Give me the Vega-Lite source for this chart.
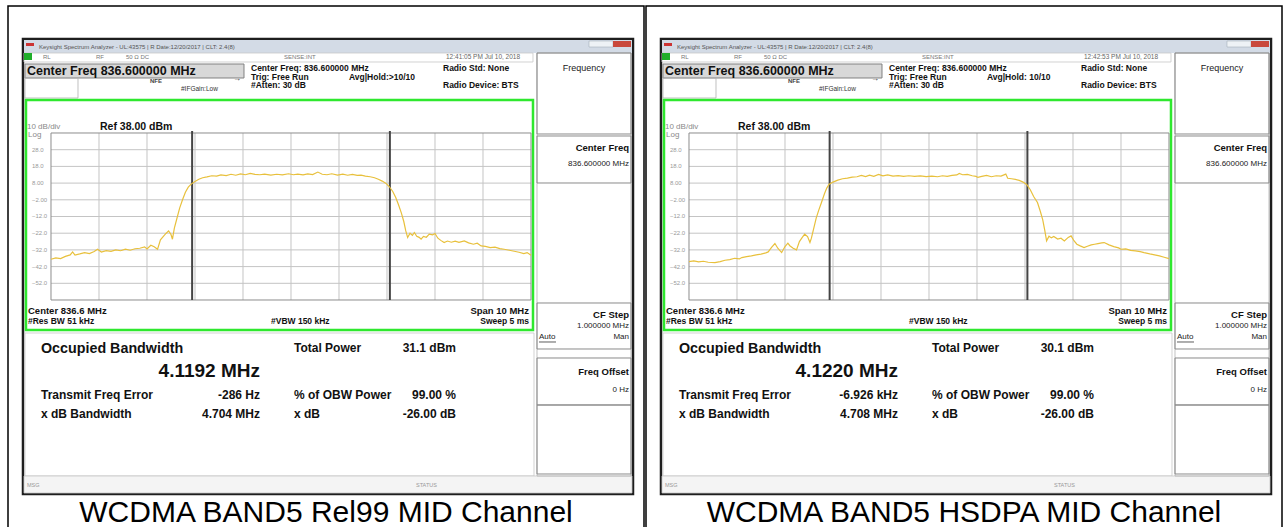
{
"$schema": "https://vega.github.io/schema/vega-lite/v6.json",
"padding": {"left": 7, "top": 5, "right": 0, "bottom": 0},
"background": "white",
"spacing": 0,
"data": {"values": [
{"panel":"Rel99","g":"m","cap":"WCDMA BAND5 Rel99 MID Channel","ts":"12:41:05 PM Jul 10, 2018","avg":"Avg|Hold:>10/10","obw":"4.1192 MHz","err":"-286 Hz","xbw":"4.704 MHz","tp":"31.1 dBm"},
{"panel":"HSDPA","g":"m","cap":"WCDMA BAND5 HSDPA MID Channel","ts":"12:42:53 PM Jul 10, 2018","avg":"Avg|Hold: 10/10","obw":"4.1220 MHz","err":"-6.926 kHz","xbw":"4.708 MHz","tp":"30.1 dBm"},
{"panel":"Rel99","g":"vg","f":832.6},{"panel":"Rel99","g":"vg","f":833.6},{"panel":"Rel99","g":"vg","f":834.6},{"panel":"Rel99","g":"vg","f":835.6},{"panel":"Rel99","g":"vg","f":836.6},{"panel":"Rel99","g":"vg","f":837.6},{"panel":"Rel99","g":"vg","f":838.6},{"panel":"Rel99","g":"vg","f":839.6},{"panel":"Rel99","g":"vg","f":840.6},
{"panel":"HSDPA","g":"vg","f":832.6},{"panel":"HSDPA","g":"vg","f":833.6},{"panel":"HSDPA","g":"vg","f":834.6},{"panel":"HSDPA","g":"vg","f":835.6},{"panel":"HSDPA","g":"vg","f":836.6},{"panel":"HSDPA","g":"vg","f":837.6},{"panel":"HSDPA","g":"vg","f":838.6},{"panel":"HSDPA","g":"vg","f":839.6},{"panel":"HSDPA","g":"vg","f":840.6},
{"panel":"Rel99","g":"hg","p":28},{"panel":"Rel99","g":"hg","p":18},{"panel":"Rel99","g":"hg","p":8},{"panel":"Rel99","g":"hg","p":-2},{"panel":"Rel99","g":"hg","p":-12},{"panel":"Rel99","g":"hg","p":-22},{"panel":"Rel99","g":"hg","p":-32},{"panel":"Rel99","g":"hg","p":-42},{"panel":"Rel99","g":"hg","p":-52},
{"panel":"HSDPA","g":"hg","p":28},{"panel":"HSDPA","g":"hg","p":18},{"panel":"HSDPA","g":"hg","p":8},{"panel":"HSDPA","g":"hg","p":-2},{"panel":"HSDPA","g":"hg","p":-12},{"panel":"HSDPA","g":"hg","p":-22},{"panel":"HSDPA","g":"hg","p":-32},{"panel":"HSDPA","g":"hg","p":-42},{"panel":"HSDPA","g":"hg","p":-52},
{"panel":"Rel99","g":"obw","f":834.54},{"panel":"Rel99","g":"obw","f":838.66},
{"panel":"HSDPA","g":"obw","f":834.53},{"panel":"HSDPA","g":"obw","f":838.65},
{"panel":"Rel99","g":"tr","f":831.6,"p":-37.6},{"panel":"Rel99","g":"tr","f":831.7,"p":-36.8},{"panel":"Rel99","g":"tr","f":831.8,"p":-37.2},{"panel":"Rel99","g":"tr","f":831.9,"p":-35.9},{"panel":"Rel99","g":"tr","f":832.0,"p":-35.0},{"panel":"Rel99","g":"tr","f":832.05,"p":-33.2},{"panel":"Rel99","g":"tr","f":832.1,"p":-35.1},{"panel":"Rel99","g":"tr","f":832.2,"p":-34.4},{"panel":"Rel99","g":"tr","f":832.3,"p":-33.6},{"panel":"Rel99","g":"tr","f":832.4,"p":-34.2},{"panel":"Rel99","g":"tr","f":832.5,"p":-33.0},{"panel":"Rel99","g":"tr","f":832.57,"p":-31.6},{"panel":"Rel99","g":"tr","f":832.65,"p":-33.3},{"panel":"Rel99","g":"tr","f":832.75,"p":-32.4},{"panel":"Rel99","g":"tr","f":832.85,"p":-32.9},{"panel":"Rel99","g":"tr","f":832.95,"p":-32.0},{"panel":"Rel99","g":"tr","f":833.05,"p":-32.5},{"panel":"Rel99","g":"tr","f":833.15,"p":-31.6},{"panel":"Rel99","g":"tr","f":833.25,"p":-32.2},{"panel":"Rel99","g":"tr","f":833.35,"p":-31.3},{"panel":"Rel99","g":"tr","f":833.45,"p":-31.0},{"panel":"Rel99","g":"tr","f":833.55,"p":-30.2},{"panel":"Rel99","g":"tr","f":833.6,"p":-31.4},{"panel":"Rel99","g":"tr","f":833.68,"p":-29.2},{"panel":"Rel99","g":"tr","f":833.75,"p":-30.1},{"panel":"Rel99","g":"tr","f":833.82,"p":-31.6},{"panel":"Rel99","g":"tr","f":833.88,"p":-26.0},{"panel":"Rel99","g":"tr","f":833.95,"p":-23.6},{"panel":"Rel99","g":"tr","f":834.0,"p":-22.0},{"panel":"Rel99","g":"tr","f":834.05,"p":-20.6},{"panel":"Rel99","g":"tr","f":834.1,"p":-22.8},{"panel":"Rel99","g":"tr","f":834.13,"p":-25.6},{"panel":"Rel99","g":"tr","f":834.17,"p":-19.0},{"panel":"Rel99","g":"tr","f":834.22,"p":-13.5},{"panel":"Rel99","g":"tr","f":834.28,"p":-7.0},{"panel":"Rel99","g":"tr","f":834.34,"p":-2.0},{"panel":"Rel99","g":"tr","f":834.4,"p":2.5},{"panel":"Rel99","g":"tr","f":834.46,"p":5.6},{"panel":"Rel99","g":"tr","f":834.52,"p":7.4},{"panel":"Rel99","g":"tr","f":834.6,"p":9.0},{"panel":"Rel99","g":"tr","f":834.68,"p":10.3},{"panel":"Rel99","g":"tr","f":834.76,"p":11.2},{"panel":"Rel99","g":"tr","f":834.85,"p":11.7},{"panel":"Rel99","g":"tr","f":834.95,"p":12.4},{"panel":"Rel99","g":"tr","f":835.05,"p":12.2},{"panel":"Rel99","g":"tr","f":835.14,"p":12.9},{"panel":"Rel99","g":"tr","f":835.25,"p":12.5},{"panel":"Rel99","g":"tr","f":835.35,"p":13.3},{"panel":"Rel99","g":"tr","f":835.45,"p":12.7},{"panel":"Rel99","g":"tr","f":835.55,"p":13.5},{"panel":"Rel99","g":"tr","f":835.65,"p":13.0},{"panel":"Rel99","g":"tr","f":835.75,"p":13.8},{"panel":"Rel99","g":"tr","f":835.85,"p":13.2},{"panel":"Rel99","g":"tr","f":835.95,"p":13.0},{"panel":"Rel99","g":"tr","f":836.05,"p":13.4},{"panel":"Rel99","g":"tr","f":836.18,"p":12.8},{"panel":"Rel99","g":"tr","f":836.3,"p":13.3},{"panel":"Rel99","g":"tr","f":836.42,"p":12.9},{"panel":"Rel99","g":"tr","f":836.55,"p":13.6},{"panel":"Rel99","g":"tr","f":836.65,"p":13.0},{"panel":"Rel99","g":"tr","f":836.74,"p":13.4},{"panel":"Rel99","g":"tr","f":836.85,"p":12.9},{"panel":"Rel99","g":"tr","f":836.95,"p":13.5},{"panel":"Rel99","g":"tr","f":837.05,"p":13.1},{"panel":"Rel99","g":"tr","f":837.16,"p":14.6},{"panel":"Rel99","g":"tr","f":837.25,"p":13.3},{"panel":"Rel99","g":"tr","f":837.35,"p":13.0},{"panel":"Rel99","g":"tr","f":837.45,"p":13.6},{"panel":"Rel99","g":"tr","f":837.57,"p":12.8},{"panel":"Rel99","g":"tr","f":837.68,"p":13.4},{"panel":"Rel99","g":"tr","f":837.78,"p":12.7},{"panel":"Rel99","g":"tr","f":837.88,"p":13.2},{"panel":"Rel99","g":"tr","f":837.98,"p":12.6},{"panel":"Rel99","g":"tr","f":838.06,"p":12.8},{"panel":"Rel99","g":"tr","f":838.15,"p":12.2},{"panel":"Rel99","g":"tr","f":838.25,"p":11.8},{"panel":"Rel99","g":"tr","f":838.34,"p":11.2},{"panel":"Rel99","g":"tr","f":838.42,"p":10.3},{"panel":"Rel99","g":"tr","f":838.5,"p":9.2},{"panel":"Rel99","g":"tr","f":838.58,"p":7.8},{"panel":"Rel99","g":"tr","f":838.65,"p":5.8},{"panel":"Rel99","g":"tr","f":838.72,"p":3.0},{"panel":"Rel99","g":"tr","f":838.78,"p":-0.5},{"panel":"Rel99","g":"tr","f":838.84,"p":-5.0},{"panel":"Rel99","g":"tr","f":838.9,"p":-10.0},{"panel":"Rel99","g":"tr","f":838.95,"p":-15.0},{"panel":"Rel99","g":"tr","f":838.99,"p":-20.5},{"panel":"Rel99","g":"tr","f":839.03,"p":-24.6},{"panel":"Rel99","g":"tr","f":839.08,"p":-22.0},{"panel":"Rel99","g":"tr","f":839.13,"p":-23.3},{"panel":"Rel99","g":"tr","f":839.17,"p":-21.6},{"panel":"Rel99","g":"tr","f":839.22,"p":-23.8},{"panel":"Rel99","g":"tr","f":839.27,"p":-24.5},{"panel":"Rel99","g":"tr","f":839.31,"p":-25.6},{"panel":"Rel99","g":"tr","f":839.36,"p":-23.9},{"panel":"Rel99","g":"tr","f":839.42,"p":-24.4},{"panel":"Rel99","g":"tr","f":839.48,"p":-22.6},{"panel":"Rel99","g":"tr","f":839.55,"p":-23.0},{"panel":"Rel99","g":"tr","f":839.6,"p":-22.2},{"panel":"Rel99","g":"tr","f":839.66,"p":-25.0},{"panel":"Rel99","g":"tr","f":839.72,"p":-26.3},{"panel":"Rel99","g":"tr","f":839.79,"p":-27.6},{"panel":"Rel99","g":"tr","f":839.86,"p":-26.7},{"panel":"Rel99","g":"tr","f":839.94,"p":-27.4},{"panel":"Rel99","g":"tr","f":840.02,"p":-26.8},{"panel":"Rel99","g":"tr","f":840.1,"p":-27.5},{"panel":"Rel99","g":"tr","f":840.21,"p":-26.6},{"panel":"Rel99","g":"tr","f":840.3,"p":-27.8},{"panel":"Rel99","g":"tr","f":840.4,"p":-28.6},{"panel":"Rel99","g":"tr","f":840.48,"p":-28.0},{"panel":"Rel99","g":"tr","f":840.56,"p":-29.6},{"panel":"Rel99","g":"tr","f":840.65,"p":-29.9},{"panel":"Rel99","g":"tr","f":840.75,"p":-30.6},{"panel":"Rel99","g":"tr","f":840.85,"p":-30.3},{"panel":"Rel99","g":"tr","f":840.95,"p":-31.2},{"panel":"Rel99","g":"tr","f":841.04,"p":-31.6},{"panel":"Rel99","g":"tr","f":841.15,"p":-32.2},{"panel":"Rel99","g":"tr","f":841.25,"p":-32.8},{"panel":"Rel99","g":"tr","f":841.35,"p":-33.4},{"panel":"Rel99","g":"tr","f":841.45,"p":-34.2},{"panel":"Rel99","g":"tr","f":841.52,"p":-33.6},{"panel":"Rel99","g":"tr","f":841.6,"p":-35.2},
{"panel":"HSDPA","g":"tr","f":831.6,"p":-39.0},{"panel":"HSDPA","g":"tr","f":831.7,"p":-38.6},{"panel":"HSDPA","g":"tr","f":831.8,"p":-39.2},{"panel":"HSDPA","g":"tr","f":831.9,"p":-38.8},{"panel":"HSDPA","g":"tr","f":832.0,"p":-39.4},{"panel":"HSDPA","g":"tr","f":832.14,"p":-39.6},{"panel":"HSDPA","g":"tr","f":832.25,"p":-39.0},{"panel":"HSDPA","g":"tr","f":832.35,"p":-38.2},{"panel":"HSDPA","g":"tr","f":832.45,"p":-37.8},{"panel":"HSDPA","g":"tr","f":832.55,"p":-37.0},{"panel":"HSDPA","g":"tr","f":832.65,"p":-37.4},{"panel":"HSDPA","g":"tr","f":832.7,"p":-36.6},{"panel":"HSDPA","g":"tr","f":832.8,"p":-36.0},{"panel":"HSDPA","g":"tr","f":832.9,"p":-35.6},{"panel":"HSDPA","g":"tr","f":833.0,"p":-35.0},{"panel":"HSDPA","g":"tr","f":833.1,"p":-34.5},{"panel":"HSDPA","g":"tr","f":833.2,"p":-33.8},{"panel":"HSDPA","g":"tr","f":833.25,"p":-33.2},{"panel":"HSDPA","g":"tr","f":833.32,"p":-30.5},{"panel":"HSDPA","g":"tr","f":833.39,"p":-28.2},{"panel":"HSDPA","g":"tr","f":833.45,"p":-31.0},{"panel":"HSDPA","g":"tr","f":833.53,"p":-33.6},{"panel":"HSDPA","g":"tr","f":833.6,"p":-30.0},{"panel":"HSDPA","g":"tr","f":833.66,"p":-28.0},{"panel":"HSDPA","g":"tr","f":833.7,"p":-29.5},{"panel":"HSDPA","g":"tr","f":833.77,"p":-31.0},{"panel":"HSDPA","g":"tr","f":833.84,"p":-32.0},{"panel":"HSDPA","g":"tr","f":833.9,"p":-27.0},{"panel":"HSDPA","g":"tr","f":833.96,"p":-24.5},{"panel":"HSDPA","g":"tr","f":834.01,"p":-22.6},{"panel":"HSDPA","g":"tr","f":834.07,"p":-24.0},{"panel":"HSDPA","g":"tr","f":834.12,"p":-27.6},{"panel":"HSDPA","g":"tr","f":834.15,"p":-25.0},{"panel":"HSDPA","g":"tr","f":834.2,"p":-19.0},{"panel":"HSDPA","g":"tr","f":834.25,"p":-13.0},{"panel":"HSDPA","g":"tr","f":834.3,"p":-8.5},{"panel":"HSDPA","g":"tr","f":834.36,"p":-3.6},{"panel":"HSDPA","g":"tr","f":834.42,"p":1.5},{"panel":"HSDPA","g":"tr","f":834.47,"p":5.0},{"panel":"HSDPA","g":"tr","f":834.52,"p":7.3},{"panel":"HSDPA","g":"tr","f":834.6,"p":8.6},{"panel":"HSDPA","g":"tr","f":834.7,"p":9.8},{"panel":"HSDPA","g":"tr","f":834.8,"p":10.6},{"panel":"HSDPA","g":"tr","f":834.9,"p":11.0},{"panel":"HSDPA","g":"tr","f":835.0,"p":11.6},{"panel":"HSDPA","g":"tr","f":835.1,"p":11.8},{"panel":"HSDPA","g":"tr","f":835.19,"p":12.6},{"panel":"HSDPA","g":"tr","f":835.28,"p":11.9},{"panel":"HSDPA","g":"tr","f":835.36,"p":12.8},{"panel":"HSDPA","g":"tr","f":835.45,"p":12.1},{"panel":"HSDPA","g":"tr","f":835.55,"p":13.2},{"panel":"HSDPA","g":"tr","f":835.64,"p":12.3},{"panel":"HSDPA","g":"tr","f":835.74,"p":12.9},{"panel":"HSDPA","g":"tr","f":835.85,"p":12.2},{"panel":"HSDPA","g":"tr","f":835.96,"p":12.5},{"panel":"HSDPA","g":"tr","f":836.07,"p":12.0},{"panel":"HSDPA","g":"tr","f":836.18,"p":12.4},{"panel":"HSDPA","g":"tr","f":836.3,"p":12.0},{"panel":"HSDPA","g":"tr","f":836.42,"p":12.3},{"panel":"HSDPA","g":"tr","f":836.54,"p":11.9},{"panel":"HSDPA","g":"tr","f":836.66,"p":12.2},{"panel":"HSDPA","g":"tr","f":836.78,"p":11.8},{"panel":"HSDPA","g":"tr","f":836.88,"p":12.4},{"panel":"HSDPA","g":"tr","f":836.98,"p":12.0},{"panel":"HSDPA","g":"tr","f":837.08,"p":12.6},{"panel":"HSDPA","g":"tr","f":837.18,"p":12.9},{"panel":"HSDPA","g":"tr","f":837.23,"p":13.8},{"panel":"HSDPA","g":"tr","f":837.3,"p":13.0},{"panel":"HSDPA","g":"tr","f":837.4,"p":13.2},{"panel":"HSDPA","g":"tr","f":837.5,"p":12.4},{"panel":"HSDPA","g":"tr","f":837.58,"p":12.0},{"panel":"HSDPA","g":"tr","f":837.62,"p":11.4},{"panel":"HSDPA","g":"tr","f":837.7,"p":12.0},{"panel":"HSDPA","g":"tr","f":837.8,"p":12.6},{"panel":"HSDPA","g":"tr","f":837.9,"p":11.8},{"panel":"HSDPA","g":"tr","f":838.0,"p":12.4},{"panel":"HSDPA","g":"tr","f":838.1,"p":12.2},{"panel":"HSDPA","g":"tr","f":838.2,"p":13.4},{"panel":"HSDPA","g":"tr","f":838.24,"p":10.9},{"panel":"HSDPA","g":"tr","f":838.32,"p":10.6},{"panel":"HSDPA","g":"tr","f":838.4,"p":10.2},{"panel":"HSDPA","g":"tr","f":838.48,"p":9.6},{"panel":"HSDPA","g":"tr","f":838.56,"p":8.6},{"panel":"HSDPA","g":"tr","f":838.64,"p":7.0},{"panel":"HSDPA","g":"tr","f":838.71,"p":4.0},{"panel":"HSDPA","g":"tr","f":838.78,"p":0.0},{"panel":"HSDPA","g":"tr","f":838.86,"p":-3.6},{"panel":"HSDPA","g":"tr","f":838.92,"p":-9.0},{"panel":"HSDPA","g":"tr","f":838.97,"p":-14.0},{"panel":"HSDPA","g":"tr","f":839.01,"p":-20.0},{"panel":"HSDPA","g":"tr","f":839.05,"p":-26.6},{"panel":"HSDPA","g":"tr","f":839.1,"p":-23.8},{"panel":"HSDPA","g":"tr","f":839.15,"p":-24.8},{"panel":"HSDPA","g":"tr","f":839.2,"p":-24.0},{"panel":"HSDPA","g":"tr","f":839.28,"p":-25.5},{"panel":"HSDPA","g":"tr","f":839.35,"p":-25.0},{"panel":"HSDPA","g":"tr","f":839.42,"p":-26.6},{"panel":"HSDPA","g":"tr","f":839.5,"p":-24.5},{"panel":"HSDPA","g":"tr","f":839.56,"p":-23.6},{"panel":"HSDPA","g":"tr","f":839.62,"p":-26.5},{"panel":"HSDPA","g":"tr","f":839.68,"p":-28.6},{"panel":"HSDPA","g":"tr","f":839.75,"p":-29.6},{"panel":"HSDPA","g":"tr","f":839.83,"p":-30.6},{"panel":"HSDPA","g":"tr","f":839.9,"p":-29.8},{"panel":"HSDPA","g":"tr","f":839.98,"p":-29.0},{"panel":"HSDPA","g":"tr","f":840.05,"p":-28.6},{"panel":"HSDPA","g":"tr","f":840.12,"p":-28.2},{"panel":"HSDPA","g":"tr","f":840.2,"p":-27.8},{"panel":"HSDPA","g":"tr","f":840.25,"p":-27.6},{"panel":"HSDPA","g":"tr","f":840.35,"p":-29.0},{"panel":"HSDPA","g":"tr","f":840.45,"p":-30.0},{"panel":"HSDPA","g":"tr","f":840.55,"p":-30.8},{"panel":"HSDPA","g":"tr","f":840.6,"p":-31.6},{"panel":"HSDPA","g":"tr","f":840.7,"p":-31.4},{"panel":"HSDPA","g":"tr","f":840.8,"p":-32.3},{"panel":"HSDPA","g":"tr","f":840.9,"p":-32.6},{"panel":"HSDPA","g":"tr","f":841.0,"p":-33.0},{"panel":"HSDPA","g":"tr","f":841.08,"p":-33.6},{"panel":"HSDPA","g":"tr","f":841.2,"p":-34.4},{"panel":"HSDPA","g":"tr","f":841.3,"p":-35.0},{"panel":"HSDPA","g":"tr","f":841.4,"p":-35.6},{"panel":"HSDPA","g":"tr","f":841.5,"p":-36.4},{"panel":"HSDPA","g":"tr","f":841.6,"p":-37.2}
]},
"facet": {"column": {"field": "panel", "type": "nominal", "sort": ["Rel99", "HSDPA"], "header": null}},
"spec": {
"width": 636,
"height": 522,
"layer": [
{"transform": [{"filter": "datum.g == 'm'"}],
 "layer": [
 {"mark": {"type": "rect", "fill": "white", "stroke": "#1e1e1e", "strokeWidth": 2.5},
  "encoding": {"x": {"datum": 831.0166, "type": "quantitative", "scale": {"domain": [830.7042, 843.9542], "nice": false, "zero": false}},
   "x2": {"datum": 843.725},
   "y": {"datum": 94.288, "type": "quantitative", "scale": {"domain": [-198.53, 114.048], "nice": false, "zero": false}},
   "y2": {"datum": -178.168}}},
 {"mark": {"type": "rect", "fill": "#d3dbe6"}, "encoding": {"x": {"datum": 831.0375}, "x2": {"datum": 843.7041}, "y": {"datum": 93.689}, "y2": {"datum": 85.904}}},
 {"mark": {"type": "rect", "fill": "#cc3333"}, "encoding": {"x": {"datum": 831.0791}, "x2": {"datum": 831.2458}, "y": {"datum": 91.892}, "y2": {"datum": 90.096}}},
 {"mark": {"type": "rect", "fill": "#eef2f6", "stroke": "#9aa5b1", "strokeWidth": 0.5}, "encoding": {"x": {"datum": 842.8083}, "x2": {"datum": 843.3083}, "y": {"datum": 93.09}, "y2": {"datum": 89.497}}},
 {"mark": {"type": "rect", "fill": "#c9483b"}, "encoding": {"x": {"datum": 843.3083}, "x2": {"datum": 843.6833}, "y": {"datum": 93.09}, "y2": {"datum": 89.497}}},
 {"mark": {"type": "rect", "fill": "white", "stroke": "#c8c8c8", "strokeWidth": 0.8}, "encoding": {"x": {"datum": 831.0375}, "x2": {"datum": 841.6416}, "y": {"datum": 85.904}, "y2": {"datum": 80.515}}},
 {"mark": {"type": "rect", "fill": "#1fae2a"}, "encoding": {"x": {"datum": 831.0375}, "x2": {"datum": 831.2041}, "y": {"datum": 85.904}, "y2": {"datum": 81.713}}},
 {"mark": {"type": "rect", "fill": "#d8d8d8", "stroke": "#808080", "strokeWidth": 1}, "encoding": {"x": {"datum": 831.0583}, "x2": {"datum": 835.6208}, "y": {"datum": 79.317}, "y2": {"datum": 70.934}}},
 {"mark": {"type": "rect", "fill": "transparent", "stroke": "#b0b0b0", "strokeWidth": 0.8}, "encoding": {"x": {"datum": 831.0583}, "x2": {"datum": 832.1625}, "y": {"datum": 70.934}, "y2": {"datum": 58.958}}},
 {"mark": {"type": "rect", "fill": "transparent", "stroke": "#2ee82e", "strokeWidth": 2.5}, "encoding": {"x": {"datum": 831.0791}, "x2": {"datum": 841.6416}, "y": {"datum": 57.761}, "y2": {"datum": -79.964}}},
 {"mark": {"type": "rect", "fill": "transparent", "stroke": "#c8c8c8", "strokeWidth": 0.8}, "encoding": {"x": {"datum": 831.0583}, "x2": {"datum": 841.6625}, "y": {"datum": -81.76}, "y2": {"datum": -167.389}}},
 {"mark": {"type": "rect", "fill": "#f4f4f4", "stroke": "#c8c8c8", "strokeWidth": 0.8}, "encoding": {"x": {"datum": 831.0375}, "x2": {"datum": 843.7041}, "y": {"datum": -167.389}, "y2": {"datum": -177.569}}},
 {"mark": {"type": "rect", "fill": "transparent", "stroke": "#b4b4b4", "strokeWidth": 0.8}, "encoding": {"x": {"datum": 841.725}, "x2": {"datum": 843.6833}, "y": {"datum": 85.904}, "y2": {"datum": -167.389}}},
 {"mark": {"type": "rect", "fill": "transparent", "stroke": "#8a8a8a", "strokeWidth": 1}, "encoding": {"x": {"datum": 841.725}, "x2": {"datum": 843.6833}, "y": {"datum": 85.904}, "y2": {"datum": 37.401}}},
 {"mark": {"type": "rect", "fill": "transparent", "stroke": "#8a8a8a", "strokeWidth": 1}, "encoding": {"x": {"datum": 841.725}, "x2": {"datum": 843.6833}, "y": {"datum": 36.204}, "y2": {"datum": 8.06}}},
 {"mark": {"type": "rect", "fill": "transparent", "stroke": "#8a8a8a", "strokeWidth": 1}, "encoding": {"x": {"datum": 841.725}, "x2": {"datum": 843.6833}, "y": {"datum": -63.796}, "y2": {"datum": -91.341}}},
 {"mark": {"type": "rect", "fill": "transparent", "stroke": "#8a8a8a", "strokeWidth": 1}, "encoding": {"x": {"datum": 841.725}, "x2": {"datum": 843.6833}, "y": {"datum": -96.73}, "y2": {"datum": -124.874}}},
 {"mark": {"type": "rect", "fill": "transparent", "stroke": "#8a8a8a", "strokeWidth": 1}, "encoding": {"x": {"datum": 841.725}, "x2": {"datum": 843.6833}, "y": {"datum": -124.874}, "y2": {"datum": -166.192}}},
 {"mark": {"type": "rule", "stroke": "#333", "strokeWidth": 0.8}, "encoding": {"x": {"datum": 841.7666}, "x2": {"datum": 842.1208}, "y": {"datum": -87.15}}}
 ]},
{"transform": [{"filter": "datum.g == 'vg'"}],
 "mark": {"type": "rule", "stroke": "#c4c4c4", "strokeWidth": 1},
 "encoding": {"x": {"field": "f", "type": "quantitative"}, "y": {"datum": 38}, "y2": {"datum": -62}}},
{"transform": [{"filter": "datum.g == 'hg'"}],
 "mark": {"type": "rule", "stroke": "#c4c4c4", "strokeWidth": 1},
 "encoding": {"y": {"field": "p", "type": "quantitative"}, "x": {"datum": 831.6}, "x2": {"datum": 841.6}}},
{"transform": [{"filter": "datum.g == 'hg'"}],
 "mark": {"type": "text", "fontSize": 6, "fill": "#9a9a9a", "align": "left"},
 "encoding": {"y": {"field": "p", "type": "quantitative"}, "x": {"datum": 831.2041}, "text": {"field": "p", "type": "quantitative", "format": ".3r"}}},
{"transform": [{"filter": "datum.g == 'm'"}],
 "mark": {"type": "rect", "fill": "transparent", "stroke": "#8c8c8c", "strokeWidth": 1},
 "encoding": {"x": {"datum": 831.6}, "x2": {"datum": 841.6}, "y": {"datum": 38}, "y2": {"datum": -62}}},
{"transform": [{"filter": "datum.g == 'obw'"}],
 "mark": {"type": "rule", "stroke": "#444", "strokeWidth": 2},
 "encoding": {"x": {"field": "f", "type": "quantitative"}, "y": {"datum": 39.2}, "y2": {"datum": -62}}},
{"transform": [{"filter": "datum.g == 'tr'"}],
 "mark": {"type": "line", "stroke": "#e8c03c", "strokeWidth": 1.2},
 "encoding": {"x": {"field": "f", "type": "quantitative"}, "y": {"field": "p", "type": "quantitative"}}},
{"transform": [{"filter": "datum.g == 'm'"}],
 "layer": [
 {"mark": {"type": "text", "text": "Keysight Spectrum Analyzer - UL:43575 | R Date:12/20/2017 | CLT: 2.4(8)", "fontSize": 6, "fill": "#555"}, "encoding": {"x": {"datum": 831.35}, "y": {"datum": 89.796}}},
 {"mark": {"type": "text", "text": "RL", "fontSize": 6, "fill": "#777"}, "encoding": {"x": {"datum": 831.4333}, "y": {"datum": 83.21}}},
 {"mark": {"type": "text", "text": "RF", "fontSize": 6, "fill": "#777"}, "encoding": {"x": {"datum": 832.5375}, "y": {"datum": 83.21}}},
 {"mark": {"type": "text", "text": "50 Ω      DC", "fontSize": 6, "fill": "#777"}, "encoding": {"x": {"datum": 833.1625}, "y": {"datum": 83.21}}},
 {"mark": {"type": "text", "text": "SENSE:INT", "fontSize": 6, "fill": "#777"}, "encoding": {"x": {"datum": 836.4541}, "y": {"datum": 83.21}}},
 {"mark": {"type": "text", "fontSize": 6.5, "fill": "#666"}, "encoding": {"x": {"datum": 839.829}, "y": {"datum": 83.21}, "text": {"field": "ts"}}},
 {"mark": {"type": "text", "text": "Center Freq 836.600000 MHz", "fontSize": 12.5, "fontWeight": "bold"}, "encoding": {"x": {"datum": 831.1}, "y": {"datum": 75.126}}},
 {"mark": {"type": "text", "text": "NFE", "fontSize": 6, "fontWeight": "bold", "fill": "#444"}, "encoding": {"x": {"datum": 833.6625}, "y": {"datum": 69.138}}},
 {"mark": {"type": "text", "text": "#IFGain:Low", "fontSize": 6.5, "fill": "#333"}, "encoding": {"x": {"datum": 834.3083}, "y": {"datum": 64.347}}},
 {"mark": {"type": "text", "text": "→", "fontSize": 8, "fill": "#333"}, "encoding": {"x": {"datum": 835.3916}, "y": {"datum": 70.335}}},
 {"mark": {"type": "text", "text": "Center Freq: 836.600000 MHz", "fontSize": 8.5, "fontWeight": "bold"}, "encoding": {"x": {"datum": 835.7666}, "y": {"datum": 76.623}}},
 {"mark": {"type": "text", "text": "Trig: Free Run", "fontSize": 8.5, "fontWeight": "bold"}, "encoding": {"x": {"datum": 835.7666}, "y": {"datum": 71.533}}},
 {"mark": {"type": "text", "text": "#Atten: 30 dB", "fontSize": 8.5, "fontWeight": "bold"}, "encoding": {"x": {"datum": 835.7666}, "y": {"datum": 66.443}}},
 {"mark": {"type": "text", "fontSize": 8.5, "fontWeight": "bold"}, "encoding": {"x": {"datum": 837.8083}, "y": {"datum": 71.533}, "text": {"field": "avg"}}},
 {"mark": {"type": "text", "text": "Radio Std: None", "fontSize": 8.5, "fontWeight": "bold"}, "encoding": {"x": {"datum": 839.7666}, "y": {"datum": 76.623}}},
 {"mark": {"type": "text", "text": "Radio Device: BTS", "fontSize": 8.5, "fontWeight": "bold"}, "encoding": {"x": {"datum": 839.7666}, "y": {"datum": 66.443}}},
 {"mark": {"type": "text", "text": "10 dB/div", "fontSize": 8, "fill": "#8a8a8a"}, "encoding": {"x": {"datum": 831.1}, "y": {"datum": 41.593}}},
 {"mark": {"type": "text", "text": "Ref 38.00 dBm", "fontSize": 10.5, "fontWeight": "bold"}, "encoding": {"x": {"datum": 832.6208}, "y": {"datum": 41.593}}},
 {"mark": {"type": "text", "text": "Log", "fontSize": 8, "fill": "#8a8a8a"}, "encoding": {"x": {"datum": 831.1208}, "y": {"datum": 36.802}}},
 {"mark": {"type": "text", "text": "Center  836.6 MHz", "fontSize": 9.5, "fontWeight": "bold"}, "encoding": {"x": {"datum": 831.1208}, "y": {"datum": -68.587}}},
 {"mark": {"type": "text", "text": "#Res BW  51 kHz", "fontSize": 8.5, "fontWeight": "bold"}, "encoding": {"x": {"datum": 831.1208}, "y": {"datum": -74.575}}},
 {"mark": {"type": "text", "text": "#VBW  150 kHz", "fontSize": 8.5, "fontWeight": "bold"}, "encoding": {"x": {"datum": 836.1833}, "y": {"datum": -74.575}}},
 {"mark": {"type": "text", "text": "Span 10 MHz", "fontSize": 9.5, "fontWeight": "bold", "align": "right"}, "encoding": {"x": {"datum": 841.5583}, "y": {"datum": -68.587}}},
 {"mark": {"type": "text", "text": "Sweep  5 ms", "fontSize": 8.5, "fontWeight": "bold", "align": "right"}, "encoding": {"x": {"datum": 841.5583}, "y": {"datum": -74.575}}},
 {"mark": {"type": "text", "text": "Occupied Bandwidth", "fontSize": 14.3, "fontWeight": "bold"}, "encoding": {"x": {"datum": 831.3916}, "y": {"datum": -91.341}}},
 {"mark": {"type": "text", "fontSize": 19, "fontWeight": "bold", "align": "right"}, "encoding": {"x": {"datum": 835.9541}, "y": {"datum": -104.515}, "text": {"field": "obw"}}},
 {"mark": {"type": "text", "text": "Transmit Freq Error", "fontSize": 12, "fontWeight": "bold"}, "encoding": {"x": {"datum": 831.3916}, "y": {"datum": -118.886}}},
 {"mark": {"type": "text", "fontSize": 12, "fontWeight": "bold", "align": "right"}, "encoding": {"x": {"datum": 835.9541}, "y": {"datum": -118.886}, "text": {"field": "err"}}},
 {"mark": {"type": "text", "text": "x dB Bandwidth", "fontSize": 12, "fontWeight": "bold"}, "encoding": {"x": {"datum": 831.3916}, "y": {"datum": -130.263}}},
 {"mark": {"type": "text", "fontSize": 12, "fontWeight": "bold", "align": "right"}, "encoding": {"x": {"datum": 835.9541}, "y": {"datum": -130.263}, "text": {"field": "xbw"}}},
 {"mark": {"type": "text", "text": "Total Power", "fontSize": 12, "fontWeight": "bold"}, "encoding": {"x": {"datum": 836.6625}, "y": {"datum": -90.742}}},
 {"mark": {"type": "text", "fontSize": 12, "fontWeight": "bold", "align": "right"}, "encoding": {"x": {"datum": 840.0375}, "y": {"datum": -90.742}, "text": {"field": "tp"}}},
 {"mark": {"type": "text", "text": "% of OBW Power", "fontSize": 12, "fontWeight": "bold"}, "encoding": {"x": {"datum": 836.6625}, "y": {"datum": -118.886}}},
 {"mark": {"type": "text", "text": "99.00 %", "fontSize": 12, "fontWeight": "bold", "align": "right"}, "encoding": {"x": {"datum": 840.0375}, "y": {"datum": -118.886}}},
 {"mark": {"type": "text", "text": "x dB", "fontSize": 12, "fontWeight": "bold"}, "encoding": {"x": {"datum": 836.6625}, "y": {"datum": -130.263}}},
 {"mark": {"type": "text", "text": "-26.00 dB", "fontSize": 12, "fontWeight": "bold", "align": "right"}, "encoding": {"x": {"datum": 840.0375}, "y": {"datum": -130.263}}},
 {"mark": {"type": "text", "text": "MSG", "fontSize": 5.5, "fill": "#999"}, "encoding": {"x": {"datum": 831.1}, "y": {"datum": -172.778}}},
 {"mark": {"type": "text", "text": "STATUS", "fontSize": 5.5, "fill": "#999"}, "encoding": {"x": {"datum": 839.2041}, "y": {"datum": -172.778}}},
 {"mark": {"type": "text", "text": "Frequency", "fontSize": 9, "fill": "#222", "align": "center"}, "encoding": {"x": {"datum": 842.7041}, "y": {"datum": 76.922}}},
 {"mark": {"type": "text", "text": "Center Freq", "fontSize": 9.5, "fontWeight": "bold", "align": "right"}, "encoding": {"x": {"datum": 843.6416}, "y": {"datum": 29.018}}},
 {"mark": {"type": "text", "text": "836.600000 MHz", "fontSize": 8, "fill": "#222", "align": "right"}, "encoding": {"x": {"datum": 843.6416}, "y": {"datum": 19.437}}},
 {"mark": {"type": "text", "text": "CF Step", "fontSize": 9.5, "fontWeight": "bold", "align": "right"}, "encoding": {"x": {"datum": 843.6416}, "y": {"datum": -70.982}}},
 {"mark": {"type": "text", "text": "1.000000 MHz", "fontSize": 8, "fill": "#222", "align": "right"}, "encoding": {"x": {"datum": 843.6416}, "y": {"datum": -77.569}}},
 {"mark": {"type": "text", "text": "Auto", "fontSize": 8, "fill": "#222"}, "encoding": {"x": {"datum": 841.7666}, "y": {"datum": -84.156}}},
 {"mark": {"type": "text", "text": "Man", "fontSize": 8, "fill": "#222", "align": "right"}, "encoding": {"x": {"datum": 843.6416}, "y": {"datum": -84.156}}},
 {"mark": {"type": "text", "text": "Freq Offset", "fontSize": 9.5, "fontWeight": "bold", "align": "right"}, "encoding": {"x": {"datum": 843.6416}, "y": {"datum": -105.114}}},
 {"mark": {"type": "text", "text": "0 Hz", "fontSize": 8, "fill": "#222", "align": "right"}, "encoding": {"x": {"datum": 843.6416}, "y": {"datum": -115.892}}},
 {"mark": {"type": "text", "fontSize": 30, "fill": "#000", "align": "center", "baseline": "alphabetic"}, "encoding": {"x": {"datum": 837.3291}, "y": {"datum": -194.934}, "text": {"field": "cap"}}}
 ]}
]
},
"config": {
 "view": {"stroke": "#000", "strokeWidth": 1.5},
 "axis": {"disable": true},
 "text": {"font": "Liberation Sans", "baseline": "middle", "align": "left", "fill": "#111"}
}
}
